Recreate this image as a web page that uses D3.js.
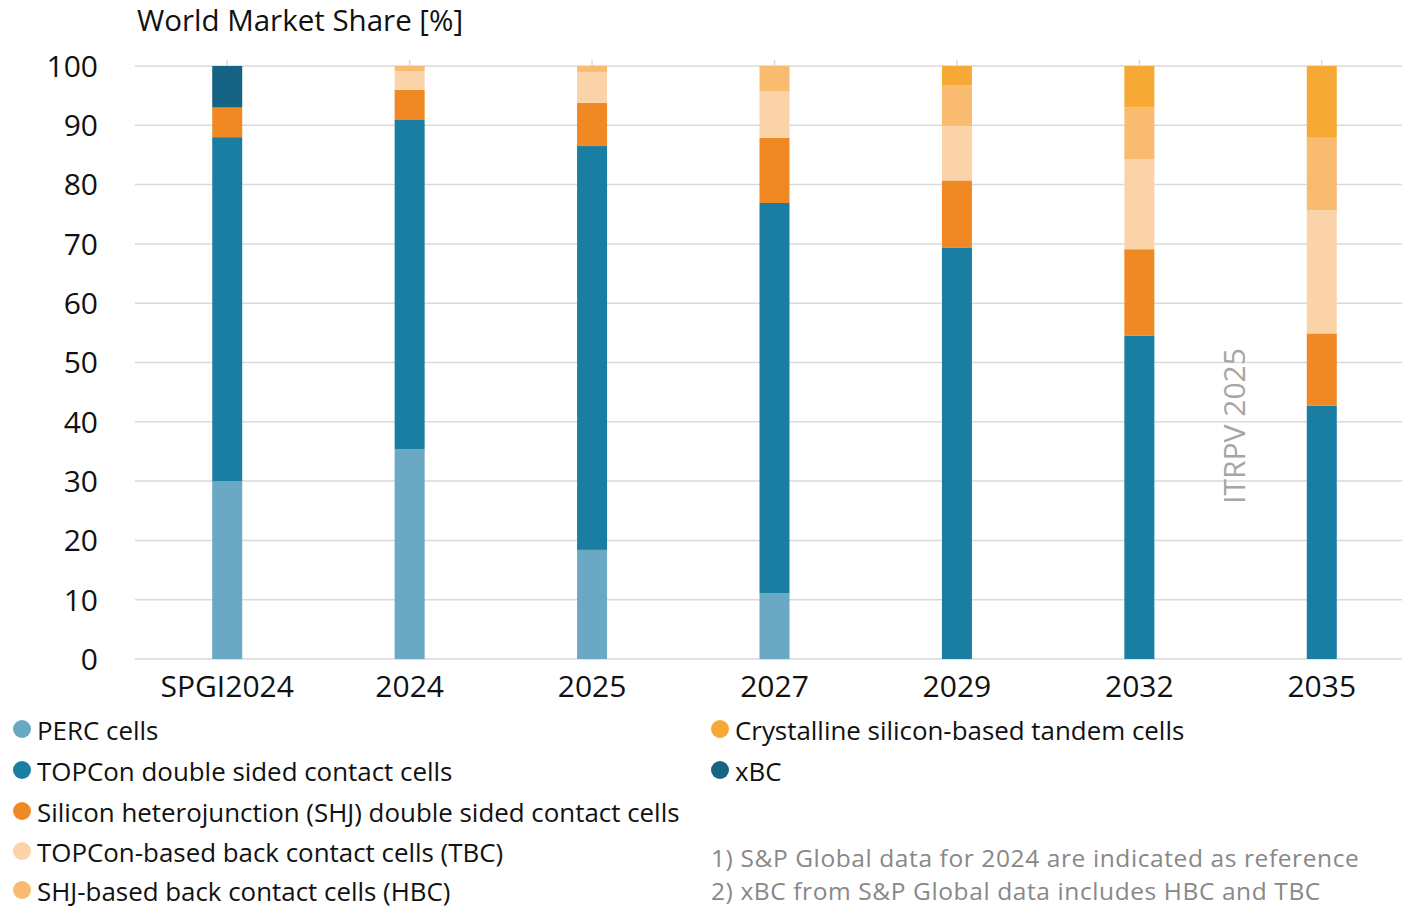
<!DOCTYPE html>
<html><head><meta charset="utf-8">
<script src="https://cdn.jsdelivr.net/npm/d3@7"></script>
<style>body{margin:0;background:#fff;}svg{display:block;font-family:"Open Sans",sans-serif;}</style>
</head><body><svg id="c" width="1402" height="908"></svg>
<script>
const categories = ["SPGI2024","2024","2025","2027","2029","2032","2035"];
const perc   = [30, 35.4, 18.4, 11.1, 0, 0, 0];
const topcon = [58, 55.5, 68.1, 65.8, 69.4, 54.5, 42.7];
const shj    = [5, 5.1, 7.3, 11.0, 11.3, 14.6, 12.2];
const tbc    = [0, 3.1, 5.2, 7.8, 9.2, 15.2, 20.8];
const hbc    = [0, 0.9, 1.0, 4.3, 6.8, 8.7, 12.2];
const tandem = [0, 0, 0, 0, 3.3, 7.0, 12.1];
const xbc    = [7, 0, 0, 0, 0, 0, 0];
const seriesNames = ["PERC cells","TOPCon double sided contact cells","Silicon heterojunction (SHJ) double sided contact cells","TOPCon-based back contact cells (TBC)","SHJ-based back contact cells (HBC)","Crystalline silicon-based tandem cells","xBC"];
const seriesKeys = ["perc","topcon","shj","tbc","hbc","tandem","xbc"];
const colors = ["#6aa8c3","#1a7ea3","#f08824","#fbd3a8","#f9bb6f","#f6a934","#156483"];
const yTicks = [0,10,20,30,40,50,60,70,80,90,100];
const notes = ["1) S&P Global data for 2024 are indicated as reference","2) xBC from S&P Global data includes HBC and TBC"];

const seriesVals = [perc, topcon, shj, tbc, hbc, tandem, xbc];
const table = categories.map((c,i)=>{const o={cat:c}; seriesKeys.forEach((k,j)=>o[k]=seriesVals[j][i]); return o;});

const svg = d3.select("#c");
const x = d3.scaleBand().domain(categories).range([136, 1413]).paddingInner(0).paddingOuter(0);
const y = d3.scaleLinear().domain([0,100]).range([659, 66]);
const barW = 30;

svg.append("g").selectAll("line").data(yTicks).join("line")
  .attr("x1",135).attr("x2",1402).attr("y1",d=>y(d)).attr("y2",d=>y(d))
  .attr("stroke","#d9d9d9").attr("stroke-width",1.5);

svg.append("g").selectAll("line").data(categories).join("line")
  .attr("x1",d=>x(d)+x.bandwidth()/2).attr("x2",d=>x(d)+x.bandwidth()/2)
  .attr("y1",y(100)-6).attr("y2",y(100))
  .attr("stroke","#d9d9d9").attr("stroke-width",1.5);

svg.append("g").selectAll("text").data(yTicks).join("text")
  .attr("x",98).attr("y",d=>y(d)).attr("dy","0.36em").attr("text-anchor","end")
  .attr("font-size",30).attr("fill","#111").text(d=>d);

svg.append("text").attr("x",137).attr("y",31).attr("font-size",29.5).attr("fill","#111").text("World Market Share [%]");

const stack = d3.stack().keys(seriesKeys)(table);
svg.append("g").selectAll("g").data(stack).join("g")
  .attr("fill",(d,i)=>colors[i])
  .selectAll("rect").data(d=>d).join("rect")
  .attr("x",d=>x(d.data.cat)+x.bandwidth()/2-barW/2)
  .attr("width",barW)
  .attr("y",d=>y(d[1]))
  .attr("height",d=>y(d[0])-y(d[1]));

svg.append("g").selectAll("text").data(categories).join("text")
  .attr("x",d=>x(d)+x.bandwidth()/2).attr("y",686).attr("dy","0.36em").attr("text-anchor","middle")
  .attr("font-size",30).attr("fill","#111").text(d=>d);

svg.append("text").attr("transform","translate(1245,426) rotate(-90)")
  .attr("text-anchor","middle").attr("font-size",30).attr("fill","#a6a6a6").text("ITRPV 2025");

const legPos = [[22,731],[22,772],[22,813],[22,853],[22,892],[720,731],[720,772]];
const leg = svg.append("g").selectAll("g").data(seriesNames).join("g")
  .attr("transform",(d,i)=>`translate(${legPos[i][0]},${legPos[i][1]})`);
leg.append("circle").attr("r",9).attr("cx",0).attr("cy",-2).attr("fill",(d,i)=>colors[i]);
leg.append("text").attr("x",15).attr("y",0).attr("dy","0.35em").attr("font-size",25.9).attr("fill","#111").text(d=>d);

svg.append("g").selectAll("text").data(notes).join("text")
  .attr("x",711).attr("y",(d,i)=>858+i*33.5).attr("dy","0.35em").attr("font-size",24.5)
  .attr("letter-spacing",0.6).attr("fill","#888").text(d=>d);
</script></body></html>
